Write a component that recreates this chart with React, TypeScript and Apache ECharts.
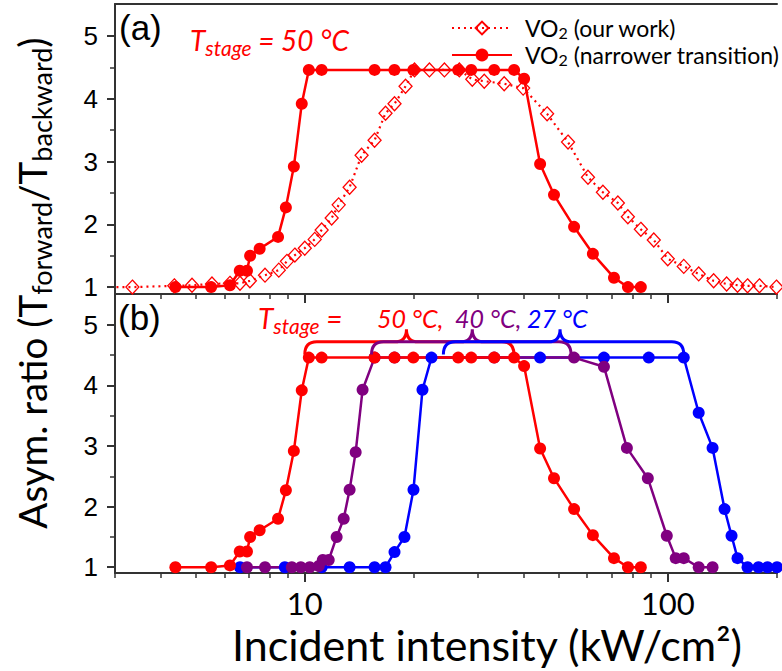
import React, { useEffect, useRef } from 'react';
import * as echarts from 'echarts';

const RED = '#ff0000';
const PURPLE = '#800080';
const BLUE = '#0000ff';

// Panel (a) — VO2 (our work), hollow diamonds, dotted line
const oursX = [2.6, 3.35, 4.37, 4.89, 5.55, 6.22, 6.63, 7.06, 7.77, 8.48, 8.93, 9.39, 10.0, 10.65, 11.13, 11.86, 12.4, 13.29, 14.34, 15.57, 16.69, 17.67, 18.95, 20.06, 22.05, 24.25, 26.66, 28.94, 31.22, 35.43, 39.96, 46.52, 53.12, 60.29, 66.28, 72.88, 77.65, 84.32, 91.53, 100, 110.7, 121.7, 133.8, 145.3, 155.7, 165.9, 178.9, 199.3];
const oursY = [1.0, 1.0, 1.02, 1.03, 1.05, 1.06, 1.06, 1.1, 1.19, 1.27, 1.41, 1.51, 1.62, 1.76, 1.91, 2.1, 2.31, 2.59, 3.1, 3.34, 3.77, 3.92, 4.2, 4.46, 4.46, 4.46, 4.46, 4.31, 4.28, 4.24, 4.17, 3.76, 3.31, 2.75, 2.51, 2.34, 2.12, 1.92, 1.75, 1.45, 1.33, 1.21, 1.1, 1.05, 1.03, 1.02, 1.02, 1.0];

// VO2 (narrower transition), T_stage = 50 °C (panels a and b)
const redX = [4.4, 5.52, 6.22, 6.62, 6.93, 7.07, 7.51, 8.44, 8.87, 9.33, 9.81, 10.26, 11.13, 15.57, 17.66, 19.91, 26.47, 28.75, 33.25, 37.73, 40.2, 44.5, 48.6, 55.2, 62.2, 71.1, 77.7, 84.3];
const redY = [1.0, 1.0, 1.03, 1.26, 1.26, 1.5, 1.61, 1.8, 2.27, 2.92, 3.92, 4.46, 4.46, 4.46, 4.46, 4.46, 4.46, 4.46, 4.46, 4.46, 4.32, 2.96, 2.47, 1.96, 1.53, 1.15, 1.0, 1.0];

// T_stage = 40 °C
const purpleX = [6.93, 7.77, 9.21, 9.75, 10.32, 10.93, 11.21, 11.64, 12.24, 12.8, 13.29, 13.81, 14.43, 15.57, 17.67, 33.27, 55.18, 66.72, 77.17, 88.13, 99.4, 105.2, 110.7, 121.7, 132.9];
const purpleY = [1.0, 1.0, 1.0, 1.0, 1.0, 1.02, 1.12, 1.12, 1.5, 1.8, 2.28, 2.9, 3.93, 4.46, 4.46, 4.46, 4.46, 4.31, 2.97, 2.47, 1.52, 1.15, 1.15, 1.0, 1.0];

// T_stage = 27 °C
const blueX = [6.63, 8.81, 11.13, 13.29, 15.57, 16.69, 17.67, 18.82, 19.93, 21.1, 22.34, 44.49, 66.72, 88.67, 110.7, 121.7, 132.9, 143.4, 149.9, 155.7, 165.9, 177.8, 188.3, 200];
const blueY = [1.0, 1.0, 1.0, 1.0, 1.0, 1.0, 1.25, 1.5, 2.28, 3.93, 4.46, 4.46, 4.46, 4.46, 4.46, 3.55, 2.97, 1.96, 1.52, 1.15, 1.0, 1.0, 1.0, 1.0];

// Curly braces in panel (b): start, peak, end (x) and y levels
const braceStart = [10.0, 15.27, 24.09];
const bracePeak = [19.06, 28.94, 50.5];
const braceEnd = [37.7, 54.15, 110.7];
const braceColors = [RED, PURPLE, BLUE];
const braceLow = 4.51;
const braceMid = 4.72;
const braceTop = 4.93;

// Axis ticks
const xMajor = [10, 100];
const xMinor = [3, 4, 5, 6, 7, 8, 9, 20, 30, 40, 50, 60, 70, 80, 90, 200];
const yMajor = [1, 2, 3, 4, 5];
const yMinor = [1.5, 2.5, 3.5, 4.5];

const zip = (xs: number[], ys: number[]) => xs.map((x, i) => [x, ys[i]]);

const CAL = 'Lato, "Open Sans", sans-serif';
const ARIAL = '"Liberation Sans", Arial, sans-serif';
const AXIS_COLOR = '#333';

function xAxes(gridIndex: number, withLabels: boolean) {
  return [
    {
      type: 'log', gridIndex, min: 3, max: 200, logBase: 10, position: 'bottom',
      axisLine: { show: true, lineStyle: { color: AXIS_COLOR, width: 2 } },
      axisTick: { show: true, customValues: xMajor, length: 9, inside: false, lineStyle: { color: AXIS_COLOR, width: 2 } },
      axisLabel: withLabels
        ? { show: true, customValues: xMajor, fontFamily: CAL, fontSize: 31, color: '#000', margin: 14 }
        : { show: false },
      splitLine: { show: false }, minorTick: { show: false },
    },
    {
      type: 'log', gridIndex, min: 3, max: 200, logBase: 10, position: 'bottom',
      axisLine: { show: false },
      axisTick: { show: true, customValues: xMinor, length: 5, inside: false, lineStyle: { color: AXIS_COLOR, width: 1.5 } },
      axisLabel: { show: false }, splitLine: { show: false },
    },
  ];
}

function yAxes(gridIndex: number, min: number, max: number) {
  return [
    {
      type: 'value', gridIndex, min, max, position: 'left',
      axisLine: { show: true, lineStyle: { color: AXIS_COLOR, width: 2 } },
      axisTick: { show: true, customValues: yMajor, length: 8, inside: false, lineStyle: { color: AXIS_COLOR, width: 2 } },
      axisLabel: { show: true, customValues: yMajor, fontFamily: ARIAL, fontSize: 26, color: '#000', margin: 17 },
      splitLine: { show: false },
    },
    {
      type: 'value', gridIndex, min, max, position: 'left',
      axisLine: { show: false },
      axisTick: { show: true, customValues: yMinor, length: 5, inside: false, lineStyle: { color: AXIS_COLOR, width: 1.5 } },
      axisLabel: { show: false }, splitLine: { show: false },
    },
  ];
}

const filledLine = (name: string, color: string, data: number[][], xi: number, yi: number) => ({
  type: 'line', name, data, xAxisIndex: xi, yAxisIndex: yi,
  symbol: 'circle', symbolSize: 12, showSymbol: true,
  lineStyle: { color, width: 2.5 }, itemStyle: { color },
  emphasis: { disabled: true }, z: 3,
});

export default function App() {
  const ref = useRef<HTMLDivElement>(null);
  useEffect(() => {
    if (!ref.current) return;
    const chart = echarts.init(ref.current, null, { renderer: 'svg' });

    const braceData = braceStart.map((s, i) => [s, bracePeak[i], braceEnd[i], braceLow, braceMid, braceTop, i]);
    const subRich = {
      t: { fontFamily: CAL, fontStyle: 'italic', fontSize: 28, color: RED },
      s: { fontFamily: CAL, fontStyle: 'italic', fontSize: 21, color: RED, padding: [14, 0, 0, 0] },
    };

    const option: any = {
      animation: false,
      backgroundColor: '#fff',
      grid: [
        { left: 115, right: 5, top: 4, height: 290 },
        { left: 115, right: 5, top: 294, height: 279 },
      ],
      xAxis: [
        ...xAxes(0, false),
        ...xAxes(1, true),
        {
          type: 'log', gridIndex: 0, min: 3, max: 200, position: 'top',
          axisLine: { show: true, lineStyle: { color: AXIS_COLOR, width: 2 } },
          axisTick: { show: false }, axisLabel: { show: false }, splitLine: { show: false },
        },
      ],
      yAxis: [...yAxes(0, 0.89, 5.51), ...yAxes(1, 0.905, 5.51)],
      legend: {
        data: ['VO2 (our work)', 'VO2 (narrower transition)'],
        orient: 'vertical', left: 446, top: 11, itemWidth: 60, itemHeight: 16, itemGap: 3,
        selectedMode: false,
        formatter: (name: string) =>
          name === 'VO2 (our work)'
            ? '{v|VO}{s|2}{a| (our work)}'
            : '{v|VO}{s|2}{a| (narrower transition)}',
        textStyle: {
          fontFamily: CAL, fontSize: 23, color: '#000', lineHeight: 24,
          rich: {
            v: { fontFamily: CAL, fontSize: 23, color: '#000', lineHeight: 24, padding: [0, 0, 0, 8] },
            a: { fontFamily: CAL, fontSize: 23, color: '#000', lineHeight: 24 },
            s: { fontFamily: CAL, fontSize: 16, color: '#000', lineHeight: 16, padding: [8, 0, 0, 0] },
          },
        },
      },
      series: [
        {
          type: 'line', name: 'VO2 (our work)', data: zip(oursX, oursY), xAxisIndex: 0, yAxisIndex: 0,
          symbol: 'diamond', symbolSize: [13, 14], showSymbol: true,
          lineStyle: { color: RED, width: 2.2, type: [2, 4] },
          itemStyle: { color: 'rgba(255,255,255,0)', borderColor: RED, borderWidth: 1.3 },
          emphasis: { disabled: true }, z: 2,
        },
        filledLine('VO2 (narrower transition)', RED, zip(redX, redY), 0, 0),
        filledLine('27 °C', BLUE, zip(blueX, blueY), 2, 2),
        filledLine('40 °C', PURPLE, zip(purpleX, purpleY), 2, 2),
        filledLine('50 °C', RED, zip(redX, redY), 2, 2),
        {
          type: 'custom', name: 'braces', xAxisIndex: 2, yAxisIndex: 2, silent: true, clip: false, z: 4,
          data: braceData,
          encode: { x: [0, 1, 2], y: [3, 4, 5] },
          renderItem: (params: any, api: any) => {
            const x0 = api.coord([api.value(0), api.value(3)])[0];
            const xp = api.coord([api.value(1), api.value(3)])[0];
            const x1 = api.coord([api.value(2), api.value(3)])[0];
            const yb = api.coord([api.value(0), api.value(3)])[1];
            const yh = api.coord([api.value(0), api.value(4)])[1];
            const yt = api.coord([api.value(0), api.value(5)])[1];
            const r = 12;
            const d = `M ${x0} ${yb} Q ${x0} ${yh} ${x0 + r} ${yh} L ${xp - r} ${yh} Q ${xp} ${yh} ${xp} ${yt} Q ${xp} ${yh} ${xp + r} ${yh} L ${x1 - r} ${yh} Q ${x1} ${yh} ${x1} ${yb}`;
            return {
              type: 'path',
              shape: { pathData: d },
              style: { fill: 'none', stroke: braceColors[api.value(6)], lineWidth: 3 },
            };
          },
        },
      ],
      graphic: [
        {
          type: 'text', left: 119, top: 10,
          style: { text: '(a)', font: `35px ${ARIAL}`, fill: '#000' },
        },
        {
          type: 'text', left: 118, top: 300,
          style: { text: '(b)', font: `35px ${ARIAL}`, fill: '#000' },
        },
        {
          type: 'text', x: 190, y: 40,
          style: { text: '{t|T}{s|stage}{t| = 50 °C}', fill: RED, verticalAlign: 'middle', rich: subRich },
        },
        {
          type: 'text', x: 258, y: 318,
          style: { text: '{t|T}{s|stage}{t| =}', fill: RED, verticalAlign: 'middle', rich: subRich },
        },
        {
          type: 'text', x: 377, y: 318,
          style: { text: '50 °C,', font: `italic 25px ${CAL}`, fill: RED, verticalAlign: 'middle' },
        },
        {
          type: 'text', x: 455, y: 318,
          style: { text: '40 °C,', font: `italic 25px ${CAL}`, fill: PURPLE, verticalAlign: 'middle' },
        },
        {
          type: 'text', x: 527, y: 318,
          style: { text: '27 °C', font: `italic 25px ${CAL}`, fill: BLUE, verticalAlign: 'middle' },
        },
        {
          type: 'text', x: 487, y: 644,
          style: { text: 'Incident intensity (kW/cm²)', font: `43px ${CAL}`, fill: '#000', align: 'center', verticalAlign: 'middle' },
        },
        {
          type: 'text', x: 32, y: 283, rotation: Math.PI / 2,
          style: {
            text: '{m|Asym. ratio (T}{s|forward}{m|/T}{s|backward}{m|)}',
            align: 'center', verticalAlign: 'middle', fill: '#000',
            rich: {
              m: { fontFamily: CAL, fontSize: 38.5, color: '#000' },
              s: { fontFamily: CAL, fontSize: 27, color: '#000', padding: [18, 0, 0, 0] },
            },
          },
        },
      ],
    };
    chart.setOption(option);
    return () => chart.dispose();
  }, []);
  return (
    <div
      ref={ref}
      style={{ position: 'absolute', left: 0, top: 0, width: 782, height: 671, background: '#fff' }}
    />
  );
}
